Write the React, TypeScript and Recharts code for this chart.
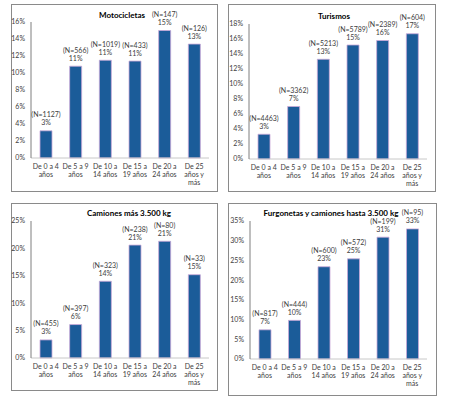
import React from "react";
import { BarChart, Bar, XAxis, YAxis, LabelList } from "recharts";

const categories = [
  "De 0 a 4\naños",
  "De 5 a 9\naños",
  "De 10 a\n14 años",
  "De 15 a\n19 años",
  "De 20 a\n24 años",
  "De 25\naños y\nmás",
];

const motoValues = [3.2, 10.8, 11.5, 11.4, 15.0, 13.4];
const motoN = [1127, 566, 1019, 433, 147, 126];
const motoPct = ["3%", "11%", "11%", "11%", "15%", "13%"];
const motoTicks = [0, 2, 4, 6, 8, 10, 12, 14, 16];

const turValues = [3.3, 7.0, 13.3, 15.2, 15.8, 16.7];
const turN = [4463, 3362, 5213, 5789, 2389, 604];
const turPct = ["3%", "7%", "13%", "15%", "16%", "17%"];
const turTicks = [0, 2, 4, 6, 8, 10, 12, 14, 16, 18];

const camValues = [3.3, 6.1, 14.0, 20.6, 21.3, 15.2];
const camN = [455, 397, 323, 238, 80, 33];
const camPct = ["3%", "6%", "14%", "21%", "21%", "15%"];
const camTicks = [0, 5, 10, 15, 20, 25];

const furValues = [7.4, 9.8, 23.4, 25.4, 30.9, 33.0];
const furN = [817, 444, 600, 572, 199, 95];
const furPct = ["7%", "10%", "23%", "25%", "31%", "33%"];
const furTicks = [0, 5, 10, 15, 20, 25, 30, 35];

const FONT = "Lato, 'Liberation Sans', sans-serif";
const TEXT = "#404040";
const BAR = "#1B5C99";

type Box = { l: number; t: number; r: number; b: number };

const CatTick = (props: any) => {
  const { x, y, payload } = props;
  const lines = String(payload.value).split("\n");
  return (
    <text x={x} y={y} textAnchor="middle" fontSize={7} fill={TEXT} fontFamily={FONT}>
      {lines.map((ln, i) => (
        <tspan key={i} x={x} dy={i === 0 ? 10.5 : 8}>
          {ln}
        </tspan>
      ))}
    </text>
  );
};

function Panel(props: {
  title: string;
  titleX: number;
  titleY: number;
  box: Box;
  plot: Box;
  values: number[];
  ns: number[];
  pcts: string[];
  ticks: number[];
}) {
  const { title, titleX, titleY, box, plot, values, ns, pcts, ticks } = props;
  const data = categories.map((c, i) => ({ cat: c, v: values[i], n: ns[i], p: pcts[i] }));
  const w = box.r - box.l;
  const h = box.b - box.t;
  const renderLabel = (lp: any) => {
    const { x, y, width, index } = lp;
    const cx = Number(x) + Number(width) / 2;
    const top = Number(y);
    return (
      <g>
        <text x={cx} y={top - 16 + 2.5} textAnchor="middle" fontSize={7} fill={TEXT} fontFamily={FONT}>
          {`(N=${ns[index]})`}
        </text>
        <text x={cx} y={top - 8 + 2.5} textAnchor="middle" fontSize={7} fill={TEXT} fontFamily={FONT}>
          {pcts[index]}
        </text>
      </g>
    );
  };
  return (
    <>
      <div
        style={{
          position: "absolute",
          left: box.l,
          top: box.t,
          width: w - 2,
          height: h - 2,
          border: "1px solid #8a8a8a",
        }}
      />
      <div style={{ position: "absolute", left: box.l, top: box.t, width: w, height: h }}>
        <BarChart
          width={w}
          height={h}
          data={data}
          margin={{ top: plot.t - box.t, left: 0, right: box.r - plot.r, bottom: 0 }}
        >
          <XAxis
            dataKey="cat"
            interval={0}
            height={box.b - plot.b}
            tickLine={false}
            tickSize={0}
            tickMargin={0}
            axisLine={{ stroke: "#c8c8c8" }}
            tick={<CatTick />}
          />
          <YAxis
            width={plot.l - box.l}
            domain={[0, ticks[ticks.length - 1]]}
            ticks={ticks}
            interval={0}
            tickLine={false}
            tickSize={0}
            tickMargin={6}
            axisLine={{ stroke: "#7f7f7f" }}
            tickFormatter={(v: number) => `${v}%`}
            tick={{ fontSize: 7, fill: TEXT, fontFamily: FONT }}
          />
          <Bar dataKey="v" fill={BAR} stroke="#c9a8d8" strokeWidth={0.8} barSize={12} isAnimationActive={false}>
            <LabelList dataKey="v" content={renderLabel} />
          </Bar>
        </BarChart>
      </div>
      <div
        style={{
          position: "absolute",
          left: titleX,
          top: titleY,
          transform: "translate(-50%, -50%)",
          whiteSpace: "nowrap",
          fontFamily: FONT,
          fontWeight: 700,
          fontSize: 8,
          lineHeight: 1,
          color: "#000",
        }}
      >
        {title}
      </div>
    </>
  );
}

export default function App() {
  return (
    <div
      style={{
        position: "absolute",
        left: 0,
        top: 0,
        width: 450,
        height: 398,
        background: "#fff",
        overflow: "hidden",
      }}
    >
      <Panel
        title="Motocicletas"
        titleX={122}
        titleY={15}
        box={{ l: 11, t: 4, r: 218, b: 192 }}
        plot={{ l: 31, t: 22, r: 209, b: 158 }}
        values={motoValues}
        ns={motoN}
        pcts={motoPct}
        ticks={motoTicks}
      />
      <Panel
        title="Turismos"
        titleX={334}
        titleY={16}
        box={{ l: 228, t: 4, r: 436, b: 192 }}
        plot={{ l: 249, t: 24, r: 427, b: 159 }}
        values={turValues}
        ns={turN}
        pcts={turPct}
        ticks={turTicks}
      />
      <Panel
        title="Camiones más 3.500 kg"
        titleX={129}
        titleY={213}
        box={{ l: 11, t: 203, r: 218, b: 391 }}
        plot={{ l: 31, t: 221, r: 209, b: 358 }}
        values={camValues}
        ns={camN}
        pcts={camPct}
        ticks={camTicks}
      />
      <Panel
        title="Furgonetas y camiones hasta 3.500 kg"
        titleX={331}
        titleY={213}
        box={{ l: 228, t: 203, r: 437, b: 396 }}
        plot={{ l: 250, t: 221, r: 427, b: 359 }}
        values={furValues}
        ns={furN}
        pcts={furPct}
        ticks={furTicks}
      />
    </div>
  );
}
